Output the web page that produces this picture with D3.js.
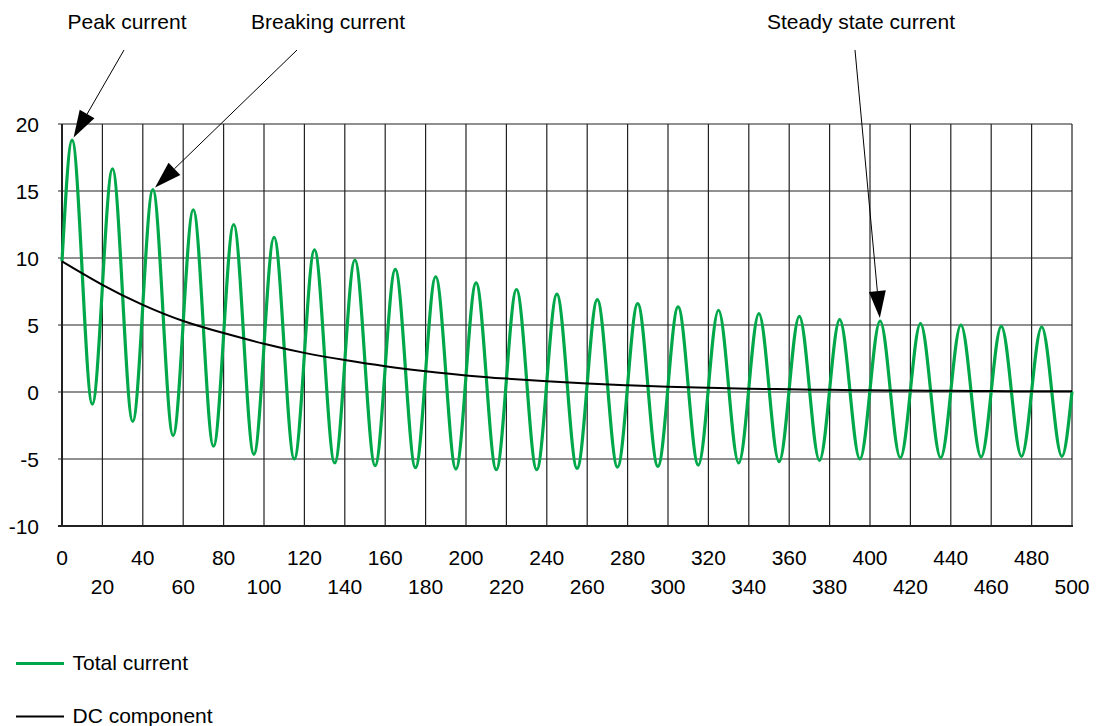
<!DOCTYPE html>
<html>
<head>
<meta charset="utf-8">
<script src="https://cdn.jsdelivr.net/npm/d3@7"></script>
<style>
  html, body { margin: 0; padding: 0; background: #fff; }
  svg { display: block; font-family: "Liberation Sans", Arial, Helvetica, sans-serif; }
</style>
</head>
<body>
<svg id="chart" width="1106" height="726"></svg>
<script>
// time in ms, current in kA
const total_current = [
  [0, 9.75], [5, 18.8], [15, -0.9], [25, 16.65], [35, -2.2], [45, 15.1], [55, -3.25],
  [65, 13.6], [75, -4.05], [85, 12.5], [95, -4.65], [105, 11.55], [115, -5.0],
  [125, 10.6], [135, -5.3], [145, 9.85], [155, -5.5], [165, 9.15], [175, -5.65],
  [185, 8.6], [195, -5.75], [205, 8.15], [215, -5.8], [225, 7.65], [235, -5.8],
  [245, 7.3], [255, -5.7], [265, 6.9], [275, -5.6], [285, 6.6], [295, -5.55],
  [305, 6.35], [315, -5.45], [325, 6.1], [335, -5.3], [345, 5.85], [355, -5.2],
  [365, 5.65], [375, -5.1], [385, 5.4], [395, -5.0], [405, 5.3], [415, -4.9],
  [425, 5.1], [435, -4.9], [445, 5.0], [455, -4.85], [465, 4.9], [475, -4.8],
  [485, 4.85], [495, -4.8], [500, 0.05]
]
const dc_component = [
  [0, 9.75], [20, 8.0], [40, 6.5], [60, 5.3], [80, 4.4], [100, 3.6], [120, 2.92],
  [140, 2.38], [160, 1.92], [180, 1.55], [200, 1.24], [220, 1.0], [240, 0.8],
  [260, 0.63], [280, 0.5], [300, 0.39], [320, 0.31], [340, 0.25], [360, 0.2],
  [380, 0.16], [400, 0.13], [420, 0.11], [440, 0.09], [460, 0.07], [480, 0.06], [500, 0.05]
]
const x_ticks = [0, 20, 40, 60, 80, 100, 120, 140, 160, 180, 200, 220, 240, 260, 280,
  300, 320, 340, 360, 380, 400, 420, 440, 460, 480, 500]
const y_ticks = [-10, -5, 0, 5, 10, 15, 20]
const annotations = [
  {label: "Peak current", point: [5, 18.8], text_x: 127, from: [124, 50]},
  {label: "Breaking current", point: [45, 15.1], text_x: 328, from: [297, 50]},
  {label: "Steady state current", point: [405, 5.3], text_x: 861, from: [855, 50]}
]
const legend_items = [
  {label: "Total current", color: "#00a84a", width: 3},
  {label: "DC component", color: "#000", width: 2}
]

const green = "#00a84a"
const svg = d3.select("#chart")
const x = d3.scaleLinear().domain([0, 500]).range([62, 1072])
const y = d3.scaleLinear().domain([-10, 20]).range([526, 124])
const font_size = "21px"

// grid
svg.append("g")
  .selectAll("line")
  .data(y_ticks)
  .join("line")
  .attr("x1", 58).attr("x2", x(500))
  .attr("y1", d => y(d)).attr("y2", d => y(d))
  .attr("stroke", "#222").attr("stroke-width", 1.2)
svg.append("g")
  .selectAll("line")
  .data(x_ticks)
  .join("line")
  .attr("x1", d => x(d)).attr("x2", d => x(d))
  .attr("y1", y(20)).attr("y2", y(-10))
  .attr("stroke", "#222").attr("stroke-width", 1.2)
// axes
svg.append("line")
  .attr("x1", x(0)).attr("x2", x(0)).attr("y1", y(20)).attr("y2", y(-10) + 1)
  .attr("stroke", "#222").attr("stroke-width", 2)
svg.append("line")
  .attr("x1", 58).attr("x2", x(500) + 1).attr("y1", y(-10)).attr("y2", y(-10))
  .attr("stroke", "#222").attr("stroke-width", 2)

// tick labels
svg.append("g")
  .selectAll("text")
  .data(y_ticks)
  .join("text")
  .attr("x", 39).attr("y", d => y(d))
  .attr("dy", "0.36em")
  .attr("text-anchor", "end")
  .attr("font-size", font_size)
  .text(d => d)
svg.append("g")
  .selectAll("text")
  .data(x_ticks)
  .join("text")
  .attr("x", d => x(d))
  .attr("y", (d, i) => i % 2 === 0 ? 565 : 594)
  .attr("text-anchor", "middle")
  .attr("font-size", font_size)
  .text(d => d)

// curves
const line = d3.line()
  .x(d => x(d[0]))
  .y(d => y(d[1]))
  .curve(d3.curveMonotoneX)
svg.append("path")
  .datum(total_current)
  .attr("d", line)
  .attr("fill", "none")
  .attr("stroke", green)
  .attr("stroke-width", 3.2)
svg.append("path")
  .datum(dc_component)
  .attr("d", line.curve(d3.curveNatural))
  .attr("fill", "none")
  .attr("stroke", "#000")
  .attr("stroke-width", 2)

// annotations
const ann = svg.append("g")
annotations.forEach(a => {
  const px = x(a.point[0]), py = y(a.point[1])
  const dx = px - a.from[0], dy = py - a.from[1]
  const len = Math.hypot(dx, dy)
  const ux = dx / len, uy = dy / len
  const tip = [px - ux * 3, py - uy * 3]
  const head = 27, half = 8.5
  const base = [tip[0] - ux * head, tip[1] - uy * head]
  ann.append("line")
    .attr("x1", a.from[0]).attr("y1", a.from[1])
    .attr("x2", base[0]).attr("y2", base[1])
    .attr("stroke", "#000").attr("stroke-width", 1)
  ann.append("path")
    .attr("d", d3.line()([
      tip,
      [base[0] - uy * half, base[1] + ux * half],
      [base[0] + uy * half, base[1] - ux * half]
    ]) + "Z")
    .attr("fill", "#000")
  ann.append("text")
    .attr("x", a.text_x).attr("y", 29)
    .attr("text-anchor", "middle")
    .attr("font-size", font_size)
    .text(a.label)
})

// legend
const legend = svg.append("g")
  .selectAll("g")
  .data(legend_items)
  .join("g")
  .attr("transform", (d, i) => `translate(0, ${663.5 + i * 53})`)
legend.append("line")
  .attr("x1", 16).attr("x2", 64)
  .attr("stroke", d => d.color)
  .attr("stroke-width", d => d.width)
legend.append("text")
  .attr("x", 72.5).attr("y", 6.5)
  .attr("font-size", font_size)
  .text(d => d.label)
</script>
</body>
</html>
